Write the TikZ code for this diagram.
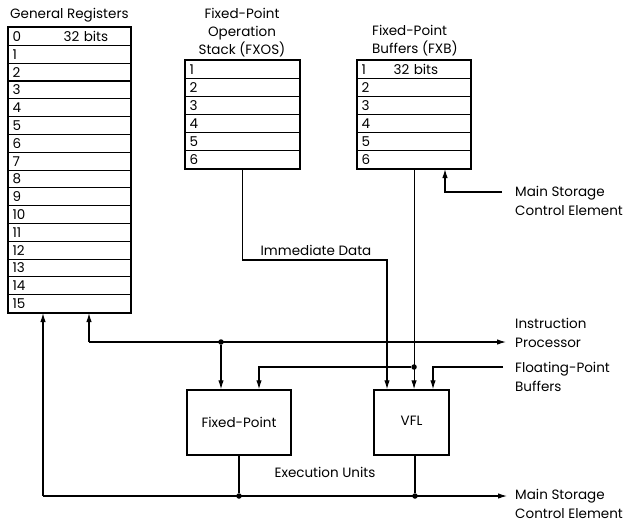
\documentclass[tikz,border=0pt]{standalone}
\usepackage{fontspec}
\setmainfont{Poppins}
\usetikzlibrary{arrows.meta}
\begin{document}
\begin{tikzpicture}[x=1pt,y=-1pt,
  txt/.style={font=\fontsize{13.5}{19}\selectfont, inner sep=0pt},
  ttl/.style={font=\fontsize{13.5}{18}\selectfont, inner sep=0pt},
  grrow/.style={draw, line width=1.1pt, anchor=north west, minimum width=122pt, minimum height=17.8125pt,
     inner xsep=4pt, inner ysep=0pt, text width=114pt, align=left, font=\fontsize{13.5}{14}\selectfont},
  stkrow/.style={draw, line width=1.1pt, anchor=north west, minimum width=114pt, minimum height=18pt,
     inner xsep=4pt, inner ysep=0pt, text width=106pt, align=left, font=\fontsize{13.5}{14}\selectfont},
  bufrow/.style={draw, line width=1.1pt, anchor=north west, minimum width=113pt, minimum height=18pt,
     inner xsep=4pt, inner ysep=0pt, text width=105pt, align=left, font=\fontsize{13.5}{14}\selectfont},
  outer/.style={line width=1.8pt},
  unit/.style={draw, line width=1.5pt, minimum height=65pt, font=\fontsize{13.5}{14}\selectfont},
  conn/.style={line width=1.1pt},
  arr/.style={conn, -{Latex[length=9pt,width=5.5pt]}},
  jdot/.style={circle, fill, inner sep=0pt, minimum size=5.5pt}
]
\useasboundingbox (0,0) rectangle (626,523);

% General registers
\node[ttl, anchor=west] (grtitle) at (10,15) {General Registers};
\node[grrow] (gr0) at (8,27) {\rlap{0}\hspace*{51pt}32 bits};
\foreach \i in {1,...,15} {
  \node[grrow] (gr\i) at (8,{27+\i*17.8125}) {\i};
}
\draw[outer] (gr0.north west) rectangle (gr15.south east);

% FXOS
\node[ttl, align=center] (fxostitle) at (242,33) {Fixed-Point\\Operation\\Stack (FXOS)};
\foreach \i in {1,...,6} {
  \node[stkrow] (fxos\i) at (185,{60+(\i-1)*18}) {\i};
}
\draw[outer] (fxos1.north west) rectangle (fxos6.south east);

% FXB
\node[ttl, align=left, anchor=west] (fxbtitle) at (372,40.5) {Fixed-Point\\Buffers (FXB)};
\node[bufrow] (fxb1) at (357,60) {\rlap{1}\hspace*{32pt}32 bits};
\foreach \i in {2,...,6} {
  \node[bufrow] (fxb\i) at (357,{60+(\i-1)*18}) {\i};
}
\draw[outer] (fxb1.north west) rectangle (fxb6.south east);

% Execution units
\node[unit, minimum width=104pt] (fxu) at (239,422.5) {Fixed-Point};
\node[unit, minimum width=75pt] (vfl) at (411.5,422.5) {\raisebox{3pt}{VFL}};
\node[txt] (exu) at (325,472) {Execution Units};

% right-hand labels
\node[txt, align=left, anchor=west] (mstop) at (515,200.5) {Main Storage\\Control Element};
\node[txt, align=left, anchor=west] (ip) at (515,332.5) {Instruction\\Processor};
\node[txt, align=left, anchor=west] (fpb) at (515,377) {Floating-Point\\Buffers};
\node[txt, align=left, anchor=west] (msbot) at (515,503.5) {Main Storage\\Control Element};

% Immediate data
\coordinate (immc) at (387,260);
\draw[arr] (fxos6.south) |- (immc) -- (immc |- vfl.north);
\node[txt] (imm) at (316,250) {Immediate Data};

% FXB to VFL
\draw[arr] (fxb6.south) -- (fxb6.south |- vfl.north);
\node[jdot] (d2) at (fxb6.south |- 0,367) {};

% Main storage into FXB
\coordinate (msin) at (502,192);
\coordinate (msx) at (445,0);
\draw[arr] (msin) -| (fxb6.south -| msx);

% Instruction processor bus
\coordinate (ipl) at (89,342);
\coordinate (ipr) at (506,342);
\draw[arr] (ipl) -- (ipr);
\draw[arr] (ipl) -- (ipl |- gr15.south);
\node[jdot] (d1) at (221,342) {};
\draw[arr] (d1) -- (d1 |- fxu.north);

% FXB branch to fixed-point
\coordinate (fx2) at (259,0);
\draw[arr] (d2) -| (fxu.north -| fx2);

% Floating-point buffers to VFL
\coordinate (fpin) at (503,367);
\coordinate (vfl3) at (433,0);
\draw[arr] (fpin) -| (vfl.north -| vfl3);

% Bottom bus
\coordinate (bl) at (43,496);
\coordinate (br) at (507,496);
\coordinate (vflo) at (415,0);
\draw[arr] (bl) -- (br);
\draw[arr] (bl) -- (bl |- gr15.south);
\node[jdot] (d3) at (fxu.south |- bl) {};
\node[jdot] (d4) at (vflo |- bl) {};
\draw[conn] (fxu.south) -- (d3);
\draw[conn] (vfl.south -| vflo) -- (d4);
\end{tikzpicture}
\end{document}
